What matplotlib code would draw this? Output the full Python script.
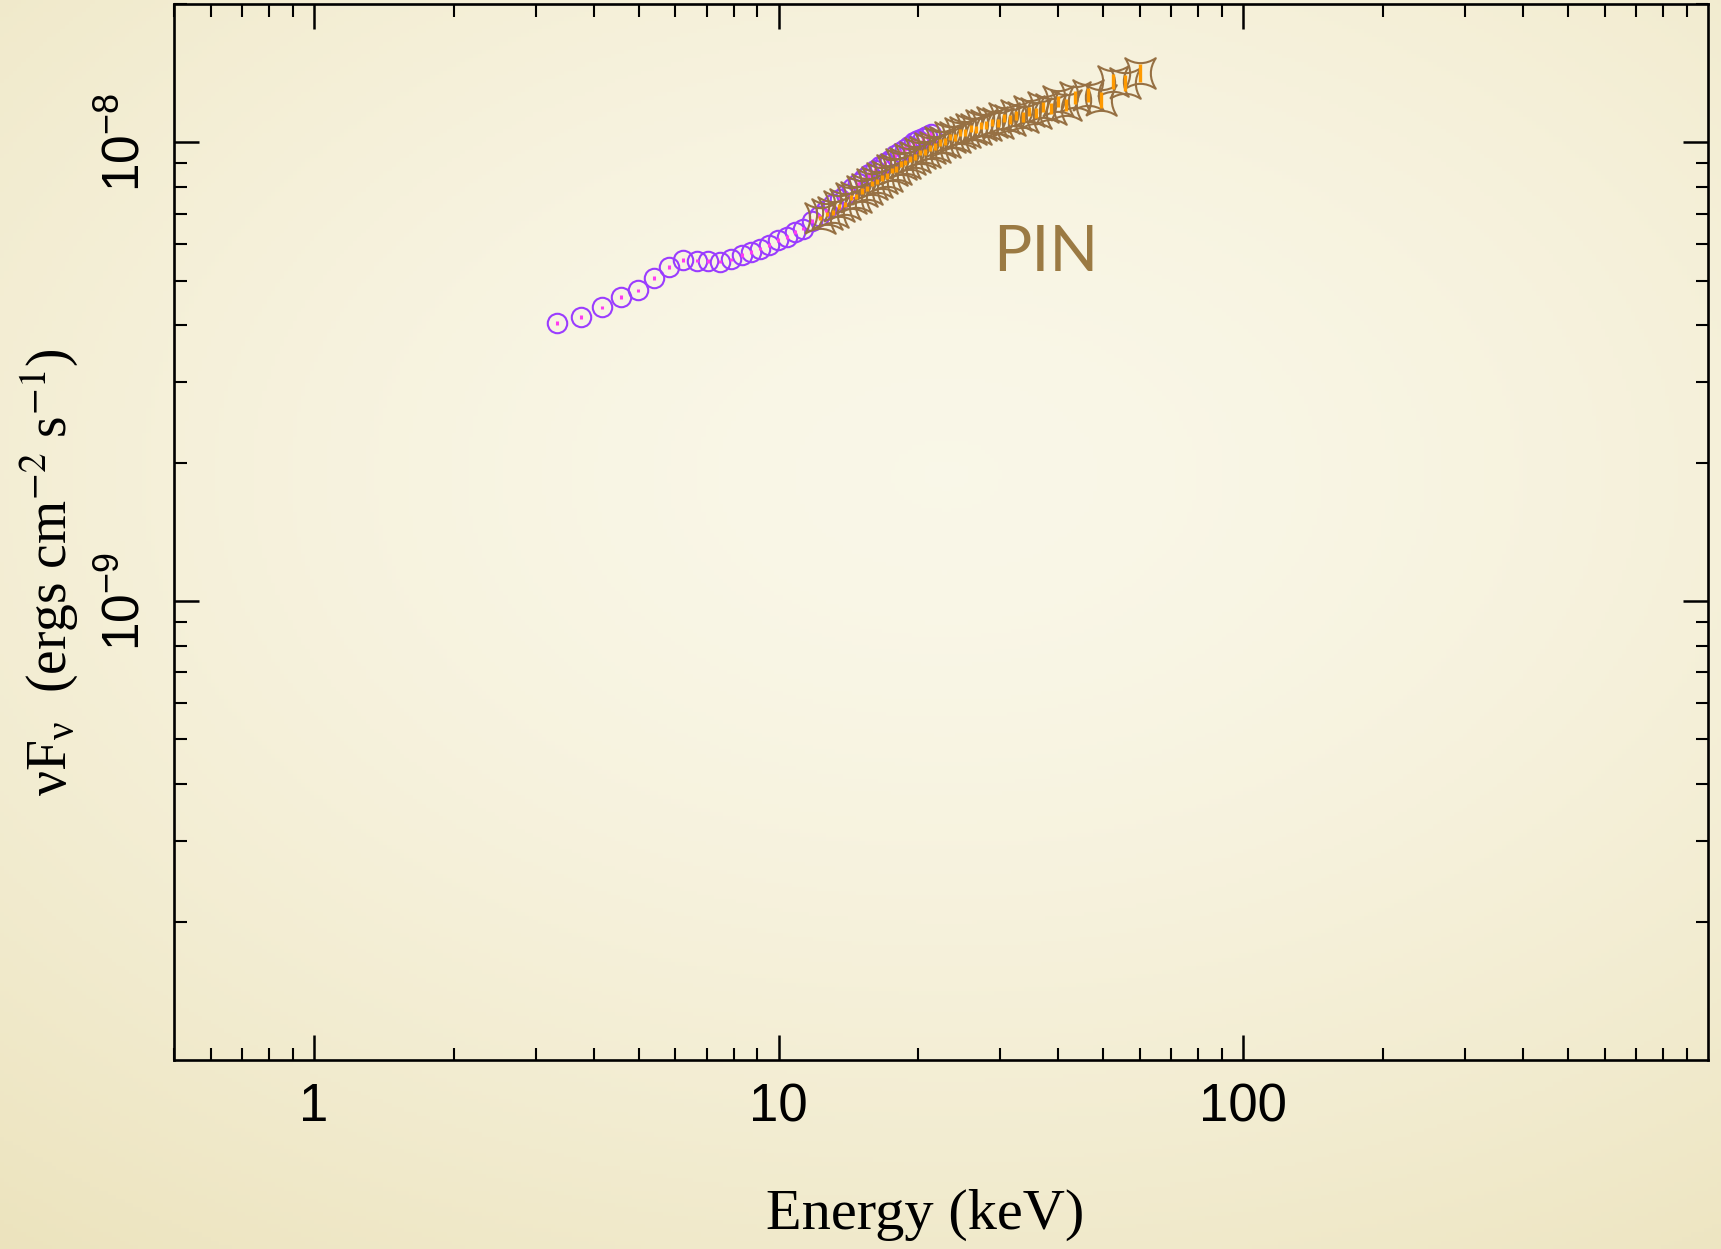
import numpy as np
import matplotlib
matplotlib.use("Agg")
import matplotlib.pyplot as plt
from matplotlib.path import Path
from matplotlib.ticker import LogLocator, NullFormatter, FixedLocator

# ---------------- data ----------------
xis_energy = [3.34, 3.75, 4.16, 4.57, 4.99, 5.40, 5.82, 6.24, 6.66, 7.06, 7.48,
              7.90, 8.33, 8.73, 9.13, 9.52, 9.95, 10.43, 10.87, 11.31, 11.81,
              12.24, 12.67, 13.10, 13.53, 13.96, 14.39, 14.82, 15.25, 15.68,
              16.11, 16.54, 16.97, 17.40, 17.83, 18.26, 18.69, 19.12, 19.55,
              19.98, 20.41, 20.84, 21.27]
xis_flux_e9 = [4.04, 4.17, 4.37, 4.61, 4.76, 5.06, 5.36, 5.54, 5.53, 5.51, 5.50,
               5.56, 5.69, 5.77, 5.87, 5.98, 6.12, 6.22, 6.38, 6.49, 6.74,
               6.92, 7.11, 7.33, 7.52, 7.73, 7.94, 8.14, 8.35, 8.52,
               8.69, 8.87, 9.03, 9.18, 9.37, 9.53, 9.70, 9.85, 10.00,
               10.12, 10.23, 10.33, 10.41]
xis_err_e9 = [0.04, 0.04, 0.04, 0.04, 0.04, 0.05, 0.05, 0.05, 0.05, 0.05, 0.05,
              0.05, 0.05, 0.05, 0.05, 0.05, 0.06, 0.06, 0.06, 0.06, 0.06,
              0.07, 0.07, 0.07, 0.07, 0.08, 0.08, 0.08, 0.08, 0.09,
              0.09, 0.09, 0.10, 0.10, 0.10, 0.11, 0.11, 0.12, 0.12,
              0.13, 0.13, 0.14, 0.14]

pin_energy = [12.3, 12.7, 13.1, 13.5, 13.9, 14.3, 14.7, 15.1, 15.5, 15.9, 16.3,
              16.7, 17.1, 17.5, 17.9, 18.3, 18.7, 19.2, 19.7, 20.2, 20.7, 21.2,
              21.7, 22.2, 22.8, 23.4, 24.0, 24.6, 25.2, 25.9, 26.6, 27.3, 28.0,
              28.8, 29.6, 30.5, 31.4, 32.4, 33.5, 34.6, 35.8, 37.1, 38.5, 40.0,
              41.6, 43.4, 46.3, 49.4, 52.4, 55.6, 59.8]
pin_flux_e9 = [6.85, 6.98, 7.05, 7.26, 7.33, 7.58, 7.62, 7.84, 7.93, 8.13, 8.21,
               8.37, 8.46, 8.70, 8.76, 8.98, 9.04, 9.22, 9.29, 9.51, 9.55, 9.75,
               9.80, 10.00, 10.05, 10.28, 10.26, 10.50, 10.52, 10.72, 10.68, 10.90, 10.93,
               11.06, 11.02, 11.30, 11.22, 11.48, 11.38, 11.70, 11.62, 11.95, 11.85, 12.30,
               12.10, 12.55, 12.70, 12.40, 13.60, 13.50, 14.20]
pin_err_e9 = [0.08, 0.08, 0.09, 0.09, 0.09, 0.09, 0.10, 0.10, 0.10, 0.11, 0.11,
              0.11, 0.12, 0.12, 0.12, 0.13, 0.13, 0.13, 0.14, 0.14, 0.15, 0.15,
              0.16, 0.16, 0.17, 0.17, 0.18, 0.18, 0.19, 0.19, 0.20, 0.21, 0.21,
              0.22, 0.23, 0.24, 0.25, 0.26, 0.27, 0.28, 0.30, 0.31, 0.33, 0.35,
              0.37, 0.40, 0.44, 0.48, 0.52, 0.56, 0.62]

x_ticks = [1, 10, 100]
x_ticklabels = ["1", "10", "100"]
y_ticks = [1e-9, 1e-8]
y_ticklabels = [r"$10^{-9}$", r"$10^{-8}$"]
x_range = (0.5, 1000)
y_range = (1e-10, 2e-8)
pin_label = "PIN"
pin_label_pos = (29.0, 5.24e-9)

# ---------------- style ----------------
plt.rcParams["mathtext.fontset"] = "custom"
plt.rcParams["mathtext.rm"] = "Liberation Sans"
plt.rcParams["mathtext.it"] = "Liberation Sans:italic"
plt.rcParams["mathtext.bf"] = "Liberation Sans:bold"
plt.rcParams["font.family"] = ["Liberation Sans", "DejaVu Sans"]

W, H = 1721, 1249
fig = plt.figure(figsize=(W / 100, H / 100), dpi=100)

# background gradient
bg = fig.add_axes([0, 0, 1, 1], zorder=-10)
gx, gy = np.meshgrid(np.linspace(0, 1, 400), np.linspace(0, 1, 300))
r = np.sqrt(((gx - 0.55) / 0.9) ** 2 + ((gy - 0.62) / 0.8) ** 2)
r = np.clip(r, 0, 1)
c_in = np.array([0.980, 0.969, 0.910])
c_out = np.array([0.925, 0.890, 0.740])
img = c_in[None, None, :] * (1 - r[..., None] ** 1.6) + c_out[None, None, :] * (r[..., None] ** 1.6)
bg.imshow(img, extent=[0, 1, 0, 1], origin="lower", aspect="auto")
bg.axis("off")

left, right = 174 / W, 1708 / W
bottom, top = 1 - 1060 / H, 1 - 4.4 / H
ax = fig.add_axes([left, bottom, right - left, top - bottom])
ax.set_facecolor("none")
ax.set_xscale("log")
ax.set_yscale("log")
ax.set_xlim(*x_range)
ax.set_ylim(*y_range)

xe = np.array(xis_energy)
xf = np.array(xis_flux_e9) * 1e-9
xr = np.array(xis_err_e9) * 1e-9
pe = np.array(pin_energy)
pf = np.array(pin_flux_e9) * 1e-9
pr = np.array(pin_err_e9) * 1e-9

# concave-square marker
ctrl = 0.35
verts = [(-1, -1), (0, -ctrl), (1, -1), (ctrl, 0), (1, 1), (0, ctrl), (-1, 1), (-ctrl, 0), (-1, -1)]
codes = [Path.MOVETO] + [Path.CURVE3] * 8
star = Path(verts, codes)

purple = "#9a3cff"
magenta = "#ff3cf0"
brown = "#967043"
orange = "#ff9a00"

ax.plot(xe, xf, linestyle="none", marker="o", ms=14, mfc="none", mec=purple, mew=1.5, zorder=3)
ax.errorbar(xe, xf, yerr=xr, fmt="none", ecolor=magenta, elinewidth=2.2, capsize=0, zorder=4)
ax.plot(pe, pf, linestyle="none", marker=star, ms=22, mfc="none", mec=brown, mew=1.5, zorder=5)
ax.errorbar(pe, pf, yerr=pr, fmt="none", ecolor=orange, elinewidth=2.4, capsize=0, zorder=6)

ax.text(pin_label_pos[0], pin_label_pos[1], pin_label, color="#9b7a43", fontsize=46,
        family=["Lato", "Liberation Sans"], ha="left", va="baseline", zorder=7)

# ticks
ax.xaxis.set_major_locator(FixedLocator(x_ticks))
ax.set_xticklabels(x_ticklabels)
ax.xaxis.set_minor_locator(LogLocator(base=10, subs=np.arange(2, 10)))
ax.xaxis.set_minor_formatter(NullFormatter())
ax.yaxis.set_major_locator(FixedLocator(y_ticks))
ax.set_yticklabels(y_ticklabels)
ax.yaxis.set_minor_locator(LogLocator(base=10, subs=np.arange(2, 10)))
ax.yaxis.set_minor_formatter(NullFormatter())

ax.tick_params(which="both", direction="in", top=True, right=True, color="black")
ax.tick_params(which="major", length=18, width=1.8)
ax.tick_params(which="minor", length=9, width=1.5)
ax.tick_params(axis="x", which="major", labelsize=38, pad=16)
ax.tick_params(axis="y", which="major", labelsize=37, pad=17)
for lab in ax.get_yticklabels():
    lab.set_rotation(90)
    lab.set_va("center")
for sp in ax.spines.values():
    sp.set_linewidth(1.9)

fig.text(925 / W, 1 - 1229 / H, "Energy (keV)", family=["Liberation Serif"], fontsize=42,
         ha="center", va="baseline")
fig.text(49 / W, 1 - 572 / H, r"$\mathregular{νF_{ν}}$  (ergs cm$^{-2}$ s$^{-1}$)",
         family=["Liberation Serif"], math_fontfamily="stix", fontsize=40,
         rotation=90, ha="center", va="center")

fig.savefig("out.png", dpi=100)
